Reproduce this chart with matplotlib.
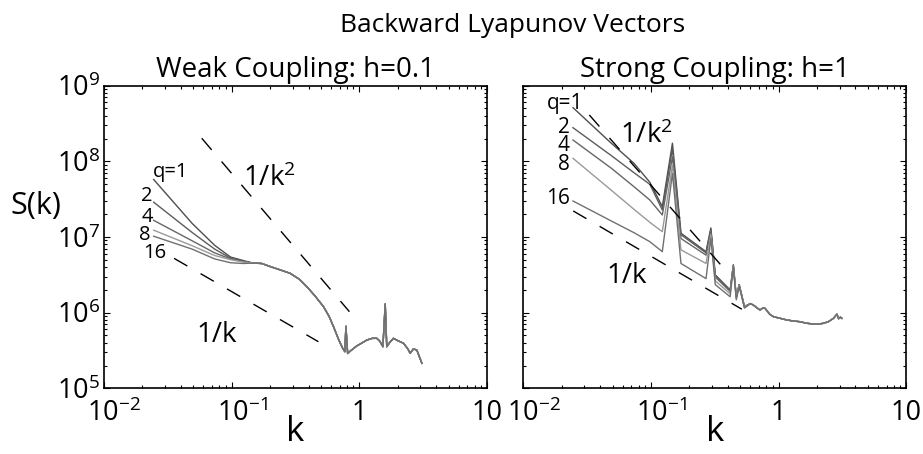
import numpy as np
import matplotlib
matplotlib.use("Agg")
import matplotlib.pyplot as plt
from matplotlib.ticker import FixedLocator, FixedFormatter, LogLocator, NullFormatter
from matplotlib.transforms import ScaledTranslation

FONT = "Open Sans"
plt.rcParams["font.family"] = [FONT, "DejaVu Sans"]
plt.rcParams["mathtext.fontset"] = "custom"
plt.rcParams["mathtext.rm"] = FONT
plt.rcParams["mathtext.it"] = FONT
plt.rcParams["mathtext.bf"] = FONT

Q_LABELS = ["q=1", "2", "4", "8", "16"]
LINE_COLORS = ["#4e4e4e", "#5c5c5c", "#666666", "#9a9a9a", "#707070"]

X_TICKS = [1e-2, 1e-1, 1, 10]
X_TICK_LABELS = [r"$\mathregular{10^{-2}}$", r"$\mathregular{10^{-1}}$", "1", "10"]
Y_TICKS = [1e5, 1e6, 1e7, 1e8, 1e9]
Y_TICK_LABELS = [r"$\mathregular{10^{%d}}$" % e for e in range(5, 10)]

# ---- weak coupling h=0.1 (log10 S) ----
weak_k_head = [0.0245, 0.049, 0.0736, 0.098, 0.1227]
weak_q1 = [7.76, 7.18, 6.89, 6.735, 6.69]
weak_q2 = [7.46, 7.06, 6.84, 6.72, 6.68]
weak_q4 = [7.22, 6.95, 6.79, 6.71, 6.675]
weak_q8 = [7.09, 6.885, 6.755, 6.70, 6.67]
weak_q16 = [7.01, 6.84, 6.71, 6.66, 6.65]
weak_k_tail = [0.147, 0.172, 0.2, 0.245, 0.287, 0.34, 0.388, 0.45, 0.524, 0.58,
               0.628, 0.69, 0.74, 0.77, 0.785, 0.81, 0.86, 0.955, 1.05, 1.146,
               1.26, 1.37, 1.45, 1.53, 1.595, 1.64, 1.72, 1.85, 2.0, 2.22,
               2.4, 2.5, 2.65, 2.82, 2.95, 3.09]
weak_tail = [6.655, 6.65, 6.61, 6.56, 6.52, 6.44, 6.343, 6.22, 6.079, 5.95,
             5.814, 5.64, 5.53, 5.484, 5.82, 5.46, 5.50, 5.56, 5.60, 5.638,
             5.66, 5.661, 5.62, 5.55, 6.115, 5.55, 5.60, 5.661, 5.63, 5.595,
             5.52, 5.463, 5.52, 5.506, 5.42, 5.33]

# guide lines (k, S) ends
weak_k2_k = [0.0583, 0.836]
weak_k2_s = [2.02e8, 1.03e6]
weak_k1_k = [0.0354, 0.478]
weak_k1_s = [5.22e6, 4.13e5]

# ---- strong coupling h=1 (log10 S) ----
strong_k_head = [0.0245, 0.049, 0.0736, 0.098, 0.1227, 0.1473, 0.1718, 0.27,
                 0.2945, 0.319, 0.417, 0.4418, 0.466, 0.491, 0.54]
strong_q1 = [8.71, 8.238, 7.974, 7.723, 7.401, 8.24, 7.05, 6.806, 7.12, 6.50, 6.30, 6.63, 6.21, 6.37, 6.08]
strong_q2 = [8.445, 8.075, 7.85, 7.696, 7.357, 8.17, 7.03, 6.79, 7.10, 6.49, 6.29, 6.63, 6.21, 6.37, 6.08]
strong_q4 = [8.282, 7.908, 7.665, 7.489, 7.291, 8.06, 6.98, 6.76, 7.08, 6.47, 6.28, 6.62, 6.20, 6.36, 6.07]
strong_q8 = [8.04, 7.617, 7.366, 7.194, 7.07, 7.95, 6.83, 6.65, 7.03, 6.42, 6.25, 6.61, 6.19, 6.36, 6.07]
strong_q16 = [7.476, 7.211, 7.057, 6.938, 6.806, 7.84, 6.65, 6.45, 6.98, 6.37, 6.21, 6.60, 6.17, 6.35, 6.06]
strong_k_tail = [0.6, 0.634, 0.68, 0.716, 0.75, 0.783, 0.85, 0.91, 1.0, 1.16,
                 1.3, 1.476, 1.65, 1.875, 2.05, 2.244, 2.45, 2.69, 2.86, 2.95,
                 3.05, 3.13]
strong_tail = [6.12, 6.10, 6.06, 6.035, 6.06, 6.057, 5.98, 5.947, 5.93, 5.903,
               5.89, 5.88, 5.86, 5.85, 5.85, 5.859, 5.88, 5.925, 5.98, 5.92,
               5.94, 5.925]

strong_k2_k = [0.0329, 0.3627]
strong_k2_s = [4.1e8, 4.05e6]
strong_k1_k = [0.0246, 0.515]
strong_k1_s = [2.21e7, 1.11e6]


def style_axes(ax, show_ylabels):
    ax.set_xscale("log")
    ax.set_yscale("log")
    ax.set_xlim(1e-2, 10)
    ax.set_ylim(1e5, 1e9)
    ax.xaxis.set_major_locator(FixedLocator(X_TICKS))
    ax.xaxis.set_major_formatter(FixedFormatter(X_TICK_LABELS))
    ax.yaxis.set_major_locator(FixedLocator(Y_TICKS))
    if show_ylabels:
        ax.yaxis.set_major_formatter(FixedFormatter(Y_TICK_LABELS))
    else:
        ax.yaxis.set_major_formatter(NullFormatter())
    for axis in (ax.xaxis, ax.yaxis):
        axis.set_minor_locator(LogLocator(base=10, subs=np.arange(2, 10)))
        axis.set_minor_formatter(NullFormatter())
    ax.tick_params(which="both", direction="in", top=True, right=True,
                   width=0.8, labelsize=19.5)
    ax.tick_params(axis="x", pad=8)
    ax.tick_params(axis="y", pad=3)
    ax.tick_params(which="major", length=4)
    ax.tick_params(which="minor", length=2)
    for sp in ax.spines.values():
        sp.set_linewidth(1.2)
    ax.set_xlabel("k", fontsize=25, labelpad=-9)
    # MATLAB centres the "10" on the tick and lets the exponent hang right
    for t in ax.xaxis.get_major_ticks()[:2]:
        t.label1.set_transform(t.label1.get_transform()
                               + ScaledTranslation(7.5 / 72, 0, fig.dpi_scale_trans))


def draw_panel(ax, k_head, heads, k_tail, tail):
    for vals, color in zip(heads, LINE_COLORS):
        k = np.concatenate([k_head, k_tail])
        s = 10 ** np.concatenate([vals, tail])
        ax.plot(k, s, color=color, lw=1.0)


fig = plt.figure(figsize=(9.23, 4.54), dpi=100)
ax1 = fig.add_axes([104 / 923, 1 - 388.3 / 454, 383 / 923, 302.6 / 454])
ax2 = fig.add_axes([523.3 / 923, 1 - 388.3 / 454, 383 / 923, 302.6 / 454])

dash = (0, (11, 11))

draw_panel(ax1, weak_k_head, [weak_q1, weak_q2, weak_q4, weak_q8, weak_q16],
           weak_k_tail, weak_tail)
ax1.plot(weak_k2_k, weak_k2_s, color="black", lw=1.0, ls=dash)
ax1.plot(weak_k1_k, weak_k1_s, color="black", lw=1.0, ls=dash)
style_axes(ax1, True)
ax1.set_title("Weak Coupling: h=0.1", fontsize=20, pad=6)

draw_panel(ax2, strong_k_head, [strong_q1, strong_q2, strong_q4, strong_q8, strong_q16],
           strong_k_tail, strong_tail)
ax2.plot(strong_k2_k, strong_k2_s, color="black", lw=1.0, ls=dash)
ax2.plot(strong_k1_k, strong_k1_s, color="black", lw=1.0, ls=dash)
style_axes(ax2, False)
ax2.set_title("Strong Coupling: h=1", fontsize=20, pad=6)

# curve labels (weak)
qfs = 14.5
ax1.text(0.0243, 6.27e7, Q_LABELS[0], fontsize=qfs, ha="left", va="baseline")
ax1.text(0.0241, 3.02e7, Q_LABELS[1], fontsize=qfs, ha="right", va="baseline")
ax1.text(0.0241, 1.59e7, Q_LABELS[2], fontsize=qfs, ha="right", va="baseline")
ax1.text(0.0232, 9.12e6, Q_LABELS[3], fontsize=qfs, ha="right", va="baseline")
ax1.text(0.031, 5.22e6, Q_LABELS[4], fontsize=qfs, ha="right", va="baseline")
ax1.text(0.1236, 4.72e7, r"1/k$^{2}$", fontsize=20, ha="left", va="baseline")
ax1.text(0.0532, 4.13e5, "1/k", fontsize=20, ha="left", va="baseline")

# curve labels (strong)
qfs2 = 15
ax2.text(0.01525, 4.88e8, Q_LABELS[0], fontsize=qfs2, ha="left", va="baseline")
ax2.text(0.0232, 2.39e8, Q_LABELS[1], fontsize=qfs2, ha="right", va="baseline")
ax2.text(0.0232, 1.37e8, Q_LABELS[2], fontsize=qfs2, ha="right", va="baseline")
ax2.text(0.0232, 7.7e7, Q_LABELS[3], fontsize=qfs2, ha="right", va="baseline")
ax2.text(0.0232, 2.7e7, Q_LABELS[4], fontsize=qfs2, ha="right", va="baseline")
ax2.text(0.0573, 1.73e8, r"1/k$^{2}$", fontsize=20, ha="left", va="baseline")
ax2.text(0.0451, 2.49e6, "1/k", fontsize=20, ha="left", va="baseline")

fig.text(36 / 923, 1 - 206 / 454, "S(k)", fontsize=22, ha="center", va="center")
fig.text(513 / 923, 1 - 25 / 454, "Backward Lyapunov Vectors", fontsize=19,
         ha="center", va="center")

fig.savefig("out.png", dpi=100)
